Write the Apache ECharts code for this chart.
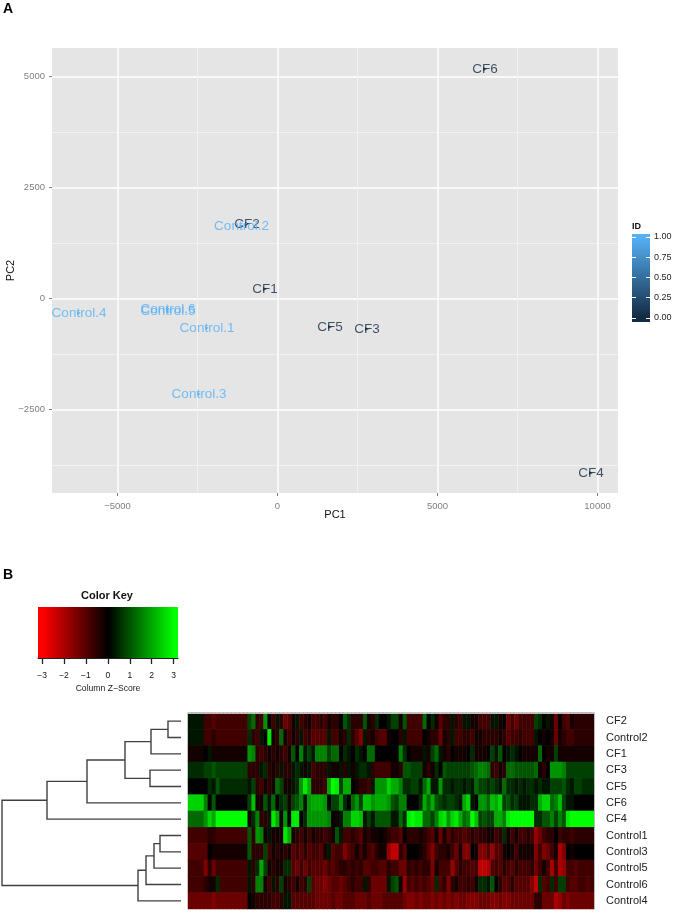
<!DOCTYPE html>
<html>
<head>
<meta charset="utf-8">
<style>html,body{margin:0;padding:0;background:#fff}#c{width:675px;height:913px}</style>
<script src="https://cdn.jsdelivr.net/npm/echarts@6/dist/echarts.min.js"></script>
</head>
<body>
<div id="c"></div>
<script>
// ---- Panel A: PCA scatter ----
const cfNames = ['CF1','CF2','CF3','CF4','CF5','CF6'];
const cfPC1 = [-391,-953,2797,9797,1641,6484];
const cfPC2 = [214,1678,-687,-3930,-642,5169];
const controlNames = ['Control.1','Control.2','Control.3','Control.4','Control.5','Control.6'];
const controlPC1 = [-2203,-1125,-2453,-6203,-3422,-3422];
const controlPC2 = [-664,1633,-2151,-327,-282,-237];
const xTicks = [-5000,0,5000,10000];
const yTicks = [-2500,0,2500,5000];
const xMinor = [-2500,2500,7500];
const yMinor = [-3750,-1250,1250,3750];
const idTicks = [0,0.25,0.5,0.75,1];

// ---- Panel B: heatmap, values in quarter z-score units ----
const keyTicks = [-3,-2,-1,0,1,2,3];
const rowNames = ['CF2','Control2','CF1','CF3','CF5','CF6','CF4','Control1','Control3','Control5','Control6','Control4'];
const rowCF2 = [1,1,1,1,-3,-3,-4,-3,-3,-3,-3,-3,-3,-3,-3,3,5,-2,-3,7,0,-3,1,-2,-5,
 -4,-1,1,-3,-2,-1,-3,-3,-2,-3,-1,-2,-2,0,4,2,-2,-2,-2,4,-1,-2,2,0,0,1,
 3,3,-1,4,-3,-3,-3,-3,5,0,2,-1,-4,-2,-2,1,-2,-3,1,1,-1,-1,-3,-3,-3,
 1,1,-1,0,-5,-3,-5,-3,-3,-3,-3,3,2,0,1,-1,-5,0,-3,-4,-1,-2,-2,-2,-2,-2];
const rowControl2 = [1,1,1,1,-3,-3,-2,-3,-3,-3,-3,-3,-3,-3,-3,2,-2,-3,1,0,11,-1,-2,5,-1,
 -3,-1,-2,1,-3,-2,-4,-4,-4,-4,1,-3,-3,-1,-2,2,-2,-4,-6,1,-2,-1,-3,-4,-4,-1,
 0,0,-2,1,-3,-3,-3,-3,0,-1,-2,-2,-5,-1,-2,1,-3,-3,-2,-2,-3,-1,-1,-2,-2,
 -2,-2,-1,-2,-4,-3,-3,-2,-3,-3,-3,1,0,-1,0,-1,-5,-1,-2,-3,-3,-2,-2,-2,-2,-2];
const rowCF1 = [-1,-1,-1,-1,0,1,-1,-1,-1,-1,-1,-1,-1,-1,-1,7,6,-2,-3,-2,-1,-2,-1,-2,-3,
 -1,4,0,6,1,3,1,6,6,6,3,5,5,0,2,1,0,2,1,0,5,5,0,0,0,0,
 0,0,6,2,0,-1,-1,-1,1,-1,3,5,1,-1,-2,0,-1,-1,-1,0,2,-1,-1,-1,0,
 3,1,4,0,1,2,1,0,-1,-1,-1,-1,5,0,-1,-1,3,-1,-1,-1,-1,-1,-1,-1,-1,-1];
const rowCF3 = [2,2,2,2,3,3,4,3,3,3,3,3,3,3,3,-2,-2,-2,1,2,-2,-1,-2,1,-2,
 -2,1,2,1,-1,1,-3,-2,-2,-2,1,-1,-1,1,-2,1,-1,1,2,2,1,-2,-3,-3,-3,-3,
 -1,-1,-2,4,4,3,3,3,-1,-2,-1,2,0,4,3,3,3,3,3,3,4,5,6,6,5,
 -2,-3,-1,-2,5,5,4,4,4,4,4,5,-1,-2,0,7,7,7,6,3,3,3,3,3,3,3];
const rowCF5 = [0,0,0,0,0,2,1,4,2,2,2,2,2,2,2,1,3,-2,-3,-1,-2,-1,5,3,-1,
 -1,1,2,7,11,8,-2,-2,-2,-3,8,12,11,3,8,8,0,-1,-2,-2,-3,1,7,7,7,10,
 8,8,6,2,2,3,3,1,5,8,1,1,7,2,2,1,2,2,1,2,1,5,3,3,2,
 3,2,1,5,2,2,1,2,1,2,2,1,2,1,1,3,3,3,4,2,1,3,3,2,2,2];
const rowCF6 = [10,10,10,10,6,0,4,0,0,0,0,0,0,0,0,3,9,-1,-1,4,1,5,0,2,3,
 -1,3,4,6,1,7,8,8,8,7,0,3,3,7,2,0,5,7,3,9,9,7,8,8,8,7,
 4,3,6,6,0,0,0,2,8,5,8,4,3,2,3,3,2,1,8,10,1,0,7,7,5,
 9,8,10,3,4,2,3,1,1,1,2,2,8,10,10,5,6,9,3,1,1,0,0,0,0,0];
const rowCF4 = [5,5,5,5,7,10,8,12,12,12,12,12,12,12,12,-1,2,6,-2,-2,1,11,8,-1,7,
 0,11,11,0,2,7,7,7,7,7,6,0,-1,1,6,6,10,10,9,1,3,1,4,4,4,4,
 1,1,5,2,11,12,11,11,5,5,3,6,10,11,7,10,11,8,5,6,12,9,3,4,3,
 3,8,8,6,11,12,12,12,12,12,12,2,2,4,4,6,3,6,4,11,12,12,12,12,12,12];
const rowControl1 = [-3,-3,-3,-3,-3,-2,-2,-3,-3,-3,-3,-3,-3,-3,-3,4,-2,7,6,-1,1,-1,-1,-1,11,
 8,-1,-2,-3,-1,-3,-1,-2,-2,-3,-2,-1,4,1,-3,-3,-2,-3,-4,-1,-2,-1,-1,0,-1,-2,
 -3,-3,-4,0,-2,-2,-2,-1,-2,-3,-4,-1,-5,-1,-4,-2,-3,-3,-4,-3,-2,-3,-2,-2,-1,
 -1,-3,-2,2,-1,-3,-1,-3,-3,-2,-3,-7,-5,-3,-2,-2,0,-3,-2,-2,-3,-2,-2,-2,-2,-2];
const rowControl3 = [-4,-4,-4,-4,-4,0,-1,-1,-1,-1,-1,-1,-1,-1,-1,4,-2,-2,-2,3,-3,-1,-2,-1,-2,
 -1,-4,-3,-4,-2,-4,-3,-3,-4,-1,1,-4,-3,-3,-6,-4,-3,-1,-3,-1,-3,-4,-2,-1,-1,-7,
 -9,-9,-2,-4,0,0,0,-1,-2,-4,-6,-3,-2,-2,-1,-3,-5,-1,-6,-6,0,-1,-6,-6,-4,
 -7,-4,-4,-1,0,-1,-3,-1,-1,-1,-1,-6,-3,-6,-5,-3,-1,-8,-6,0,-1,0,0,0,0,0];
const rowControl5 = [-3,-3,-3,-3,-6,-2,-5,-3,-3,-3,-3,-3,-3,-3,-3,1,-2,2,8,3,-1,-2,-1,-1,2,
 2,-4,-5,-3,-5,-3,-4,-4,-4,-5,-3,-4,-3,-2,-2,-3,-2,-3,-2,-4,-4,-3,-3,-4,-4,-2,
 -3,-3,-5,-5,-2,-3,-2,-3,-2,-2,-6,-1,-3,-3,-3,-7,-4,-2,-3,-3,-4,-3,-9,-9,-8,
 -4,-3,-4,-2,-3,-4,-2,-3,-3,-3,-2,-5,-3,-1,-3,-8,-3,-8,-7,-3,-3,-4,-3,-3,-3,-3];
const rowControl6 = [-3,-3,-3,-3,-2,-1,-1,2,-3,-3,-3,-3,-3,-3,-3,1,-2,6,6,-1,-3,1,-2,3,-1,
 -2,-3,-1,-3,-2,3,-4,-5,-5,-6,-5,-4,-4,-5,-4,-3,-2,-3,-3,1,-2,-5,-5,-5,-5,1,
 3,4,-1,-7,-3,-4,-3,-4,-3,-4,-5,2,-4,-2,-6,-2,-1,-3,-3,-2,-3,-1,2,2,1,
 4,0,-2,-4,-4,-2,-4,-4,-4,-4,-6,-9,2,-4,-3,2,-3,3,3,-3,-4,-4,-3,-3,-4,-3];
const rowControl4 = [-5,-5,-5,-5,-5,-5,-6,-5,-5,-5,-5,-5,-5,-5,-5,0,-1,-2,-2,-2,-2,-3,-3,-2,1,
 1,-4,-4,-4,-4,-4,-4,-5,-5,-5,-5,-4,-5,-5,-4,-4,-4,-5,-5,-5,-4,-5,-5,-5,-4,-4,
 -4,-4,-4,-5,-6,-6,-5,-6,-5,-5,-6,-5,-6,-5,-6,-5,-6,-5,-5,-6,-6,-6,-5,-5,-5,
 -6,-6,-5,-6,-6,-5,-5,-5,-5,-5,-5,-2,-2,-5,-5,-5,-8,-7,-5,-6,-5,-5,-5,-5,-5,-5];
const rowValues = [rowCF2,rowControl2,rowCF1,rowCF3,rowCF5,rowCF6,rowCF4,rowControl1,rowControl3,rowControl5,rowControl6,rowControl4];

// Dendrogram merges: children (row name, or index of an earlier merge) and merge height
const mergeA = ['CF2',0,'CF3',1,3,4,'Control1',6,7,8,5];
const mergeB = ['Control2','CF1','CF5',2,'CF6','CF4','Control3','Control5','Control6','Control4',9];
const mergeH = [13,30,31,56,94,134,21,27,35,43,179];

// ---- Derived tables ----
const heatData = [];
rowValues.forEach((r, y) => r.forEach((v, x) => heatData.push([x, y, v / 4])));
const columns = rowCF2.map((_, i) => String(i));
const dendroPos = [];
const dendroData = mergeH.map((h, i) => {
  const child = c => typeof c === 'string' ? {h: 0, y: rowNames.indexOf(c)} : dendroPos[c];
  const a = child(mergeA[i]), b = child(mergeB[i]);
  dendroPos[i] = {h, y: (a.y + b.y) / 2};
  return [a.h, a.y, b.h, b.y, h];
});
const ramp = (lo, hi, n) => Array.from({length: n}, (_, i) => lo + (hi - lo) * i / n);
const keyLo = -3.185, keyHi = 3.2, idLo = -0.045, idHi = 1.043;
const keyStep = (keyHi - keyLo) / 140, idStep = (idHi - idLo) / 88;
const keyLevels = ramp(keyLo, keyHi, 140).map(v => [v, 0]);
const idLevels = ramp(idLo, idHi, 88).map(v => [0, v]);

const sans = '"Liberation Sans", Arial, sans-serif';
const CF_COL = '#132B43', CT_COL = '#56B1F7', GREY = '#7F7F7F';
const minus = s => String(s).replace('-', '\u2212');

const pointSeries = (name, names, xs, ys, col) => ({
  name, type: 'scatter', xAxisIndex: 0, yAxisIndex: 0, z: 5,
  symbol: 'triangle', symbolRotate: -90, symbolSize: 4,
  itemStyle: {color: col},
  label: {show: true, position: 'inside', formatter: '{b}', color: col, fontFamily: sans, fontSize: 13.5},
  data: names.map((n, i) => ({name: n, value: [xs[i], ys[i]]}))
});

const chart = echarts.init(document.getElementById('c'), null, {renderer: 'canvas'});
chart.setOption({
  animation: false,
  backgroundColor: '#fff',
  textStyle: {fontFamily: sans},
  grid: [
    {outerBoundsMode: 'none', left: 52, top: 48, width: 566, height: 445, show: true, backgroundColor: '#E5E5E5', borderWidth: 0},
    {outerBoundsMode: 'none', left: 632, top: 233.5, width: 18, height: 88},
    {outerBoundsMode: 'none', left: 38, top: 607, width: 140, height: 51},
    {outerBoundsMode: 'none', left: 188, top: 713, width: 406, height: 196},
    {outerBoundsMode: 'none', left: 0, top: 713, width: 181, height: 196}
  ],
  xAxis: [
    {gridIndex: 0, type: 'value', min: -7047, max: 10640, name: 'PC1', nameLocation: 'middle', nameGap: 22, nameMoveOverlap: false,
     nameTextStyle: {fontSize: 11, color: '#111', verticalAlign: 'middle'},
     axisLine: {show: false, onZero: false}, axisTick: {show: true, length: 3, customValues: xTicks, lineStyle: {color: GREY}},
     axisLabel: {customValues: xTicks, color: GREY, fontSize: 9.5, margin: 8, formatter: minus},
     splitLine: {show: true, lineStyle: {color: '#fff', width: 1.5}}},
    {gridIndex: 1, type: 'value', min: 0, max: 1, show: false},
    {gridIndex: 2, type: 'value', min: keyLo, max: keyHi, z: 10, name: 'Column Z\u2212Score', nameLocation: 'middle', nameGap: 31, nameMoveOverlap: false,
     nameTextStyle: {fontSize: 8.6, color: '#222', verticalAlign: 'middle'},
     axisLine: {show: true, onZero: false, lineStyle: {color: '#222', width: 1.2}},
     axisTick: {show: true, length: 6, customValues: keyTicks, lineStyle: {color: '#222', width: 1.3}},
     axisLabel: {customValues: keyTicks, fontSize: 8.5, color: '#111', margin: 13, formatter: minus},
     splitLine: {show: false}},
    {gridIndex: 3, type: 'category', data: columns, position: 'top', z: 10, axisLine: {show: true, onZero: false, lineStyle: {color: '#bbb'}},
     axisTick: {show: false}, axisLabel: {show: false}, splitLine: {show: false}},
    {gridIndex: 4, type: 'value', inverse: true, min: 0, max: 181, show: false}
  ],
  yAxis: [
    {gridIndex: 0, type: 'value', min: -4380, max: 5642, name: 'PC2', nameLocation: 'middle', nameGap: 41, nameMoveOverlap: false,
     nameTextStyle: {fontSize: 11, color: '#111', verticalAlign: 'middle'},
     axisLine: {show: false, onZero: false}, axisTick: {show: true, length: 3, customValues: yTicks, lineStyle: {color: GREY}},
     axisLabel: {customValues: yTicks, color: GREY, fontSize: 9.5, margin: 7, formatter: minus},
     splitLine: {show: true, lineStyle: {color: '#fff', width: 1.5}}},
    {gridIndex: 1, type: 'value', position: 'left', min: idLo, max: idHi, z: 10,
     axisLine: {show: false, onZero: false}, axisTick: {show: true, inside: true, length: 4, customValues: idTicks, lineStyle: {color: '#fff'}},
     axisLabel: {show: false}, splitLine: {show: false}},
    {gridIndex: 1, type: 'value', position: 'right', min: idLo, max: idHi, z: 10,
     axisLine: {show: false, onZero: false}, axisTick: {show: true, inside: true, length: 4, customValues: idTicks, lineStyle: {color: '#fff'}},
     axisLabel: {customValues: idTicks, color: '#222', fontSize: 9, margin: 4, formatter: v => v.toFixed(2)},
     splitLine: {show: false}},
    {gridIndex: 2, type: 'value', min: 0, max: 1, show: false},
    {gridIndex: 3, type: 'category', inverse: true, data: rowNames, position: 'right', z: 10,
     axisLine: {show: true, onZero: false, lineStyle: {color: '#bbb'}}, axisTick: {show: false},
     axisLabel: {color: '#222', fontSize: 11, margin: 12}, splitLine: {show: false}},
    {gridIndex: 4, type: 'value', inverse: true, min: -0.5, max: 11.5, show: false}
  ],
  visualMap: [
    {show: false, type: 'continuous', seriesIndex: 3, dimension: 2, min: -3, max: 3, inRange: {color: ['#FF0000', '#000000', '#00FF00']}},
    {show: false, type: 'continuous', seriesIndex: 4, dimension: 0, min: -3, max: 3, inRange: {color: ['#FF0000', '#000000', '#00FF00']}},
    {show: false, type: 'continuous', seriesIndex: 5, dimension: 1, min: 0, max: 1, inRange: {color: [CF_COL, CT_COL]}}
  ],
  series: [
    {name: 'minor grid', type: 'scatter', xAxisIndex: 0, yAxisIndex: 0, z: 1, data: [], silent: true,
     markLine: {silent: true, symbol: 'none', label: {show: false}, animation: false,
       lineStyle: {color: '#F2F2F2', width: 1, type: 'solid'},
       data: xMinor.map(v => ({xAxis: v})).concat(yMinor.map(v => ({yAxis: v})))}},
    pointSeries('CF', cfNames, cfPC1, cfPC2, CF_COL),
    pointSeries('Control', controlNames, controlPC1, controlPC2, CT_COL),
    {name: 'expression', type: 'heatmap', xAxisIndex: 3, yAxisIndex: 4, data: heatData, silent: true,
     itemStyle: {borderWidth: 0}, emphasis: {disabled: true}, progressive: 0},
    {name: 'color key', type: 'custom', xAxisIndex: 2, yAxisIndex: 3, data: keyLevels, silent: true, encode: {x: 0, y: 1},
     renderItem: (p, api) => {
       const a = api.coord([api.value(0), 1]), b = api.coord([api.value(0) + keyStep, 0]);
       const x0 = Math.round(a[0]), x1 = Math.round(b[0]);
       return {type: 'rect', shape: {x: x0, y: a[1], width: x1 - x0, height: b[1] - a[1]}, style: {fill: api.visual('color')}};
     }},
    {name: 'ID key', type: 'custom', xAxisIndex: 1, yAxisIndex: 1, data: idLevels, silent: true, encode: {x: 0, y: 1},
     renderItem: (p, api) => {
       const a = api.coord([0, api.value(1) + idStep]), b = api.coord([1, api.value(1)]);
       const y0 = Math.round(a[1]), y1 = Math.round(b[1]);
       return {type: 'rect', shape: {x: a[0], y: y0, width: b[0] - a[0], height: y1 - y0}, style: {fill: api.visual('color')}};
     }},
    {name: 'dendrogram', type: 'custom', xAxisIndex: 4, yAxisIndex: 5, data: dendroData, silent: true, encode: {x: 4, y: 1},
     renderItem: (p, api) => {
       const ha = api.value(0), ya = api.value(1), hb = api.value(2), yb = api.value(3), h = api.value(4);
       return {type: 'polyline',
         shape: {points: [api.coord([ha, ya]), api.coord([h, ya]), api.coord([h, yb]), api.coord([hb, yb])]},
         style: {stroke: '#404040', lineWidth: 1.4, fill: null}};
     }}
  ],
  graphic: [
    {type: 'text', left: 3, top: 2, style: {text: 'A', font: 'bold 14px ' + sans, fill: '#000'}},
    {type: 'text', left: 3, top: 568, style: {text: 'B', font: 'bold 14px ' + sans, fill: '#000'}},
    {type: 'text', left: 81, top: 590, style: {text: 'Color Key', font: 'bold 11px ' + sans, fill: '#111'}},
    {type: 'text', left: 632, top: 222, style: {text: 'ID', font: 'bold 9px ' + sans, fill: '#111'}}
  ]
});
</script>
</body>
</html>
